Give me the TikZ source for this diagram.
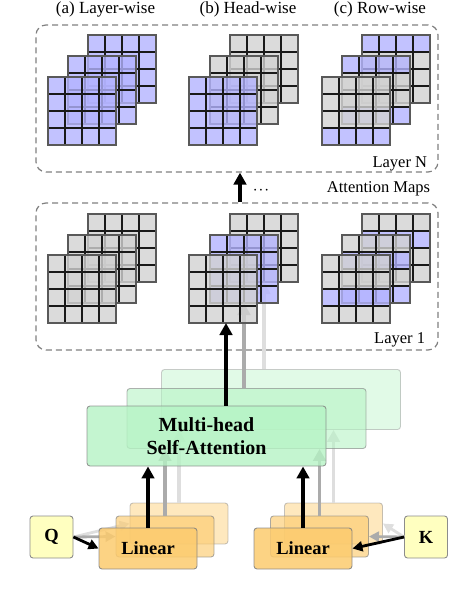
\documentclass[tikz,border=0pt]{standalone}
\usepackage{fontspec}
\setmainfont{Liberation Serif}
\usepackage{tikz}
\usetikzlibrary{arrows.meta,positioning,calc}
\definecolor{hi}{HTML}{B3B3FF}
\definecolor{lo}{HTML}{D2D2D2}
\definecolor{mhsagreen}{HTML}{B5F3C4}
\definecolor{linorange}{HTML}{FCCB6E}
\definecolor{inyellow}{HTML}{FFFFC0}
\tikzset{
    layer frame/.style={
        draw=black!50,dashed,dash pattern=on 6pt off 4pt,line width=1.2pt,
        rounded corners=10pt,
        minimum width=402pt,minimum height=147pt,inner sep=0pt
    },
    cell line/.style={draw=black!90,line width=1.1pt},
    map border/.style={draw=black!65,line width=1.2pt},
    mhsa box/.style={
        draw=black!50,fill=mhsagreen,fill opacity=#1,draw opacity=#1,text opacity=1,
        line width=.9pt,rounded corners=3pt,
        minimum width=239pt,minimum height=60pt,inner sep=0pt,
        align=center,font=\bfseries\fontsize{20}{23}\selectfont
    },
    linear box/.style={
        draw=black!50,fill=linorange,fill opacity=#1,draw opacity=#1,text opacity=1,
        line width=.9pt,rounded corners=3pt,
        minimum width=98pt,minimum height=41pt,inner sep=0pt,
        font=\bfseries\fontsize{18.5}{20}\selectfont
    },
    input box/.style={
        draw=black!45,fill=inyellow,line width=.9pt,rounded corners=3pt,
        minimum width=43pt,minimum height=42pt,inner sep=0pt,
        font=\bfseries\fontsize{18.5}{20}\selectfont
    },
    flow/.style={-{Triangle[length=12pt,width=12.5pt]},line width=3.3pt,draw=#1},
    feed/.style={-{Triangle[length=10pt,width=10pt]},line width=2.8pt,draw=#1},
    title text/.style={font=\fontsize{17}{19}\selectfont},
    label text/.style={font=\fontsize{16.5}{18}\selectfont}
}
% name, x, y (top left), colours of the four rows
\newcommand\attnmap[4]{%
    \foreach \c [count=\r from 0] in {#4}
        \fill[\c,fill opacity=.8] (#2,#3+17*\r) rectangle ++(68,17);
    \foreach \k in {1,2,3}{
        \draw[cell line] (#2+17*\k,#3) -- ++(0,68);
        \draw[cell line] (#2,#3+17*\k) -- ++(68,0);
    }
    \draw[map border] (#2,#3) rectangle ++(68,68);
    \coordinate (#1) at (#2+34,#3+68);
}

\begin{document}
\begin{tikzpicture}[x=1pt,y=-1pt]
\useasboundingbox (0,0) rectangle (460,604);

\node[title text,anchor=base] (titA) at (105.5,14) {(a) Layer-wise};
\node[title text,anchor=base] (titB) at (248,14) {(b) Head-wise};
\node[title text,anchor=base] (titC) at (380,14) {(c) Row-wise};

\node[layer frame] (frameN) at (237,98.5) {};
\node[layer frame] (frame1) at (237,276.5) {};
\node[label text,anchor=base east] (labN) at ([xshift=-8pt,yshift=5pt]frameN.south east) {Layer N};
\node[label text,anchor=base east] (lab1) at ([xshift=-10pt,yshift=7pt]frame1.south east) {Layer 1};
\node[label text,anchor=base east] (attn) at ([xshift=-5pt,yshift=10pt]frame1.north east) {Attention Maps};
\node[label text,anchor=base] (dots) at (261,194) {$\cdot\!\cdot\!\cdot$};
\draw[flow=black] ([xshift=3pt]frame1.north) -- ([xshift=3pt]frameN.south);

% layer N
\attnmap{mapNa3}{88}{35}{hi,hi,hi,hi}
\attnmap{mapNa2}{68}{56}{hi,hi,hi,hi}
\attnmap{mapNa1}{48}{77}{hi,hi,hi,hi}
\attnmap{mapNb3}{230}{35}{lo,lo,lo,lo}
\attnmap{mapNb2}{210}{56}{lo,lo,lo,lo}
\attnmap{mapNb1}{189}{77}{hi,hi,hi,hi}
\attnmap{mapNc3}{362}{35}{hi,lo,lo,lo}
\attnmap{mapNc2}{342}{56}{hi,lo,lo,hi}
\attnmap{mapNc1}{322}{77}{lo,lo,lo,hi}

% layer 1
\attnmap{map1a3}{88}{214}{lo,lo,lo,lo}
\attnmap{map1a2}{68}{235}{lo,lo,lo,lo}
\attnmap{map1a1}{48}{255}{lo,lo,lo,lo}
\attnmap{map1c3}{362}{214}{lo,hi,lo,lo}
\attnmap{map1c2}{342}{235}{lo,hi,lo,hi}
\attnmap{map1c1}{322}{255}{lo,lo,hi,lo}
\attnmap{map1b3}{230}{214}{lo,lo,lo,lo}

\node[input box] (inQ) at (51.5,537) {Q};
\node[input box] (inK) at (426,537) {K};

% third head
\node[mhsa box=.4] (mhsa3) at (281,399.5) {};
\node[linear box=.45] (linL3) at (179,523.5) {};
\node[linear box=.45] (linR3) at (333.5,523.5) {};
\draw[feed=black!13] (inQ.east) -- (linL3.west);
\draw[feed=black!13] (inK.west) -- (linR3.east);
\draw[flow=black!13] (linL3.north) -- (linL3.north |- mhsa3.south);
\draw[flow=black!13] (linR3.north) -- (linR3.north |- mhsa3.south);
\draw[flow=black!13] (mhsa3.north -| map1b3) -- (map1b3);

\attnmap{map1b2}{210}{235}{hi,hi,hi,hi}

% second head
\node[mhsa box=.6] (mhsa2) at (246.5,418.5) {};
\node[linear box=.65] (linL2) at (165,536.5) {};
\node[linear box=.65] (linR2) at (319.5,536.5) {};
\draw[feed=black!33] (inQ.east) -- (linL2.west);
\draw[feed=black!33] (inK.west) -- (linR2.east);
\draw[flow=black!33] (linL2.north) -- (linL2.north |- mhsa2.south);
\draw[flow=black!33] (linR2.north) -- (linR2.north |- mhsa2.south);
\draw[flow=black!33] (mhsa2.north -| map1b2) -- (map1b2);

\attnmap{map1b1}{189}{255}{lo,lo,lo,lo}

% first head
\node[mhsa box=.8] (mhsa1) at (206.5,436) {Multi-head\\Self-Attention};
\node[linear box=.85] (linL1) at (148,548.5) {Linear};
\node[linear box=.85] (linR1) at (303,548.5) {Linear};
\draw[feed=black] (inQ.east) -- (linL1.west);
\draw[feed=black] (inK.west) -- (linR1.east);
\draw[flow=black] (linL1.north) -- (linL1.north |- mhsa1.south);
\draw[flow=black] (linR1.north) -- (linR1.north |- mhsa1.south);
\draw[flow=black] ([xshift=3pt]mhsa1.north -| map1b1) -- ([xshift=3pt]map1b1);
\end{tikzpicture}
\end{document}
